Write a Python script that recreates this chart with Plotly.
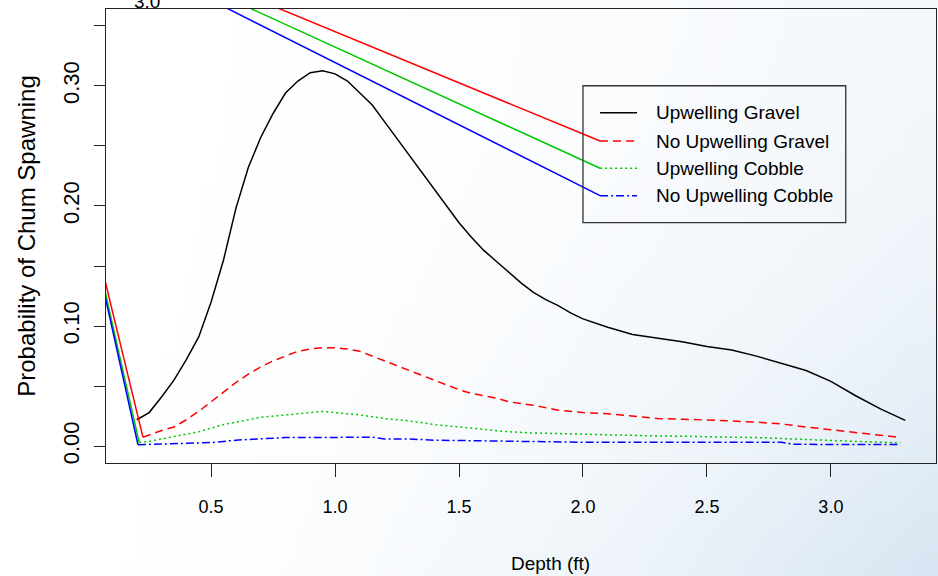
import base64, struct, zlib
import plotly.graph_objects as go

# ---------------- data ----------------
black_x = [0.20,0.25,0.30,0.35,0.40,0.45,0.50,0.55,0.60,0.65,0.70,0.75,0.80,0.85,0.90,0.95,1.00,1.05,1.10,1.15,
           1.20,1.25,1.30,1.35,1.40,1.45,1.50,1.55,1.60,1.65,1.70,1.75,1.80,1.85,1.90,1.95,2.00,
           2.10,2.20,2.30,2.40,2.50,2.60,2.70,2.80,2.90,3.00,3.10,3.20,3.30]
black_y = [0.022,0.028,0.041,0.055,0.072,0.091,0.120,0.155,0.198,0.232,0.257,0.277,0.294,0.304,0.311,0.3125,0.310,0.304,0.294,0.284,
           0.270,0.256,0.242,0.228,0.215,0.200,0.186,0.174,0.163,0.154,0.145,0.136,0.128,0.122,0.117,0.111,0.106,
           0.099,0.093,0.090,0.087,0.083,0.080,0.075,0.069,0.063,0.054,0.042,0.031,0.0215]

red_x = [0.225,0.25,0.30,0.35,0.40,0.45,0.50,0.55,0.60,0.65,0.70,0.75,0.80,0.85,0.90,0.95,1.00,1.05,1.10,1.15,
         1.20,1.25,1.30,1.35,1.40,1.45,1.50,1.55,1.60,1.65,1.70,1.80,1.90,2.00,2.10,2.20,2.30,2.40,2.50,2.60,
         2.70,2.80,2.90,3.00,3.10,3.20,3.27]
red_y = [0.0075,0.0095,0.013,0.016,0.022,0.029,0.037,0.045,0.053,0.060,0.066,0.071,0.075,0.079,0.081,0.082,0.082,0.081,0.079,0.075,
         0.071,0.067,0.063,0.059,0.055,0.051,0.047,0.044,0.042,0.040,0.037,0.034,0.030,0.028,0.027,0.025,0.023,0.0225,0.022,0.021,
         0.020,0.0185,0.016,0.0138,0.011,0.0088,0.0075]

green_x = [0.21,0.25,0.30,0.35,0.40,0.45,0.50,0.55,0.60,0.65,0.70,0.75,0.80,0.85,0.90,0.95,1.00,1.05,1.10,
           1.20,1.30,1.40,1.50,1.60,1.70,1.80,1.90,2.00,2.10,2.20,2.30,2.40,2.50,2.60,2.70,2.80,2.90,3.00,3.10,3.20,3.28]
green_y = [0.003,0.004,0.006,0.008,0.010,0.012,0.015,0.018,0.020,0.022,0.024,0.025,0.026,0.027,0.028,0.029,0.028,0.027,0.026,
           0.023,0.021,0.018,0.016,0.014,0.012,0.011,0.0105,0.010,0.009,0.0088,0.0085,0.0083,0.0082,0.0075,0.0072,0.0062,0.0055,0.0048,0.0040,0.0033,0.0028]

blue_x = [0.205,0.30,0.40,0.50,0.60,0.70,0.80,0.90,1.00,1.10,1.15,1.20,1.30,1.40,1.50,1.60,1.70,1.80,1.90,2.00,
          2.20,2.40,2.60,2.80,2.85,2.90,3.00,3.10,3.20,3.28]
blue_y = [0.0012,0.0018,0.0025,0.003,0.005,0.006,0.0072,0.0072,0.0074,0.0075,0.0075,0.006,0.006,0.005,0.0047,0.0045,0.004,0.0035,0.0033,0.0033,
          0.0033,0.0033,0.0033,0.0033,0.0016,0.0014,0.0014,0.0014,0.0014,0.0014]

# stray solid segments visible in the original figure
red_leader_x = [0.356, 2.069];   red_leader_y = [0.40, 0.2541]
green_leader_x = [0.283, 2.069]; green_leader_y = [0.40, 0.2314]
blue_leader_x = [0.223, 2.069];  blue_leader_y = [0.40, 0.2086]
red_stub_x = [0.05, 0.225];   red_stub_y = [0.1566, 0.0075]
green_stub_x = [0.05, 0.21];  green_stub_y = [0.149, 0.003]
blue_stub_x = [0.05, 0.205];  blue_stub_y = [0.1456, 0.0012]

series_names = ["Upwelling Gravel", "No Upwelling Gravel", "Upwelling Cobble", "No Upwelling Cobble"]
x_ticks = [0.5, 1.0, 1.5, 2.0, 2.5, 3.0]
x_ticklabels = ["0.5", "1.0", "1.5", "2.0", "2.5", "3.0"]
y_ticks = [0.00, 0.05, 0.10, 0.15, 0.20, 0.25, 0.30, 0.35]
y_ticklabels = ["0.00", "", "0.10", "", "0.20", "", "0.30", ""]

# legend box / rows (data coords, as placed in the original)
legend_box = [2.0, 3.06, 0.1861, 0.3001]
legend_rows_y = [0.2777, 0.2541, 0.2314, 0.2086]
legend_sym_x = [2.069, 2.218]
legend_text_x = 2.29

# ---------------- styles ----------------
colors = ["#000000", "#ff0000", "#00c800", "#0000ff"]
dashes = ["solid", "8px,5px", "2px,3px", "8px,3px,2px,3px"]
FONT = "Liberation Sans, Arial, sans-serif"
LW = 1.5

W, H = 938, 576
ML, MR, MT, MB = 106, 2, 9, 113
PW, PH = W - ML - MR, H - MT - MB


def gradient_png(w, h):
    rows = []
    for j in range(h):
        yn = j / (h - 1)
        row = bytearray([0])
        for i in range(w):
            xn = i / (w - 1)
            t = (xn ** 2) * (0.3 + 0.7 * yn ** 2)
            r = round(255 - t * 40); g = round(255 - t * 26); b = round(255 - t * 13)
            row += bytes([r, g, b])
        rows.append(bytes(row))
    raw = b"".join(rows)

    def chunk(tag, data):
        return struct.pack(">I", len(data)) + tag + data + struct.pack(">I", zlib.crc32(tag + data) & 0xffffffff)

    png = (b"\x89PNG\r\n\x1a\n" + chunk(b"IHDR", struct.pack(">IIBBBBB", w, h, 8, 2, 0, 0, 0))
           + chunk(b"IDAT", zlib.compress(raw, 9)) + chunk(b"IEND", b""))
    return "data:image/png;base64," + base64.b64encode(png).decode()


fig = go.Figure()

main = [(black_x, black_y), (red_x, red_y), (green_x, green_y), (blue_x, blue_y)]
for (xs, ys), c, d, n in zip(main, colors, dashes, series_names):
    fig.add_trace(go.Scatter(x=xs, y=ys, mode="lines", name=n, showlegend=False,
                             line=dict(color=c, width=LW, dash=d), hoverinfo="skip"))

extras = [(red_stub_x, red_stub_y, colors[1]), (green_stub_x, green_stub_y, colors[2]), (blue_stub_x, blue_stub_y, colors[3]),
          (red_leader_x, red_leader_y, colors[1]), (green_leader_x, green_leader_y, colors[2]), (blue_leader_x, blue_leader_y, colors[3])]
for xs, ys, c in extras:
    fig.add_trace(go.Scatter(x=xs, y=ys, mode="lines", showlegend=False,
                             line=dict(color=c, width=LW), hoverinfo="skip"))

shapes = [dict(type="rect", xref="x", yref="y", x0=legend_box[0], x1=legend_box[1], y0=legend_box[2], y1=legend_box[3],
               line=dict(color="#333333", width=1.3), fillcolor="rgba(0,0,0,0)")]
annotations = []
for ry, c, d, n in zip(legend_rows_y, colors, dashes, series_names):
    shapes.append(dict(type="line", xref="x", yref="y", x0=legend_sym_x[0], x1=legend_sym_x[1], y0=ry, y1=ry,
                       line=dict(color=c, width=LW, dash=d)))
    annotations.append(dict(x=legend_text_x, y=ry, xref="x", yref="y", text=n, showarrow=False,
                            xanchor="left", yanchor="middle", borderpad=0,
                            font=dict(family=FONT, size=19, color="#000")))

# clipped label at the very top of the image
annotations.append(dict(x=(147 - ML) / PW, y=1 + (MT - 2) / PH, xref="paper", yref="paper", text="3.0",
                        showarrow=False, xanchor="center", yanchor="middle",
                        font=dict(family=FONT, size=19, color="#000")))
# x-axis title
annotations.append(dict(x=(550 - ML) / PW, y=-(563 - (H - MB)) / PH, xref="paper", yref="paper", text="Depth (ft)",
                        showarrow=False, xanchor="center", yanchor="middle",
                        font=dict(family=FONT, size=19, color="#000")))

fig.update_layout(
    width=W, height=H, autosize=False,
    margin=dict(l=ML, r=MR, t=MT, b=MB, autoexpand=False),
    paper_bgcolor="white", plot_bgcolor="rgba(0,0,0,0)",
    showlegend=False,
    shapes=shapes, annotations=annotations,
    images=[dict(source=gradient_png(94, 58), xref="paper", yref="paper",
                 x=-ML / PW, y=1 + MT / PH, sizex=W / PW, sizey=H / PH,
                 xanchor="left", yanchor="top", sizing="stretch", layer="below")],
    xaxis=dict(range=[0.076, 3.424], showgrid=False, zeroline=False, automargin=False,
               showline=True, linecolor="#222", linewidth=1.3, mirror=True,
               ticks="outside", ticklen=13, tickcolor="#222", tickwidth=1.3,
               tickvals=x_ticks, ticktext=x_ticklabels, ticklabelstandoff=14,
               tickfont=dict(family=FONT, size=18, color="#000")),
    yaxis=dict(range=[-0.014, 0.364], showgrid=False, zeroline=False, automargin=False,
               showline=True, linecolor="#222", linewidth=1.3, mirror=True,
               ticks="outside", ticklen=11, tickcolor="#222", tickwidth=1.3,
               tickvals=y_ticks, ticktext=y_ticklabels, tickangle=-90, ticklabelstandoff=6,
               tickfont=dict(family=FONT, size=22, color="#000"),
               title=dict(text="Probability of Chum Spawning", standoff=16, font=dict(family=FONT, size=24, color="#000"))),
)

fig.write_html("out.html", config={"displayModeBar": False},
               post_script="document.body.style.margin='0';document.body.style.overflow='hidden';")
